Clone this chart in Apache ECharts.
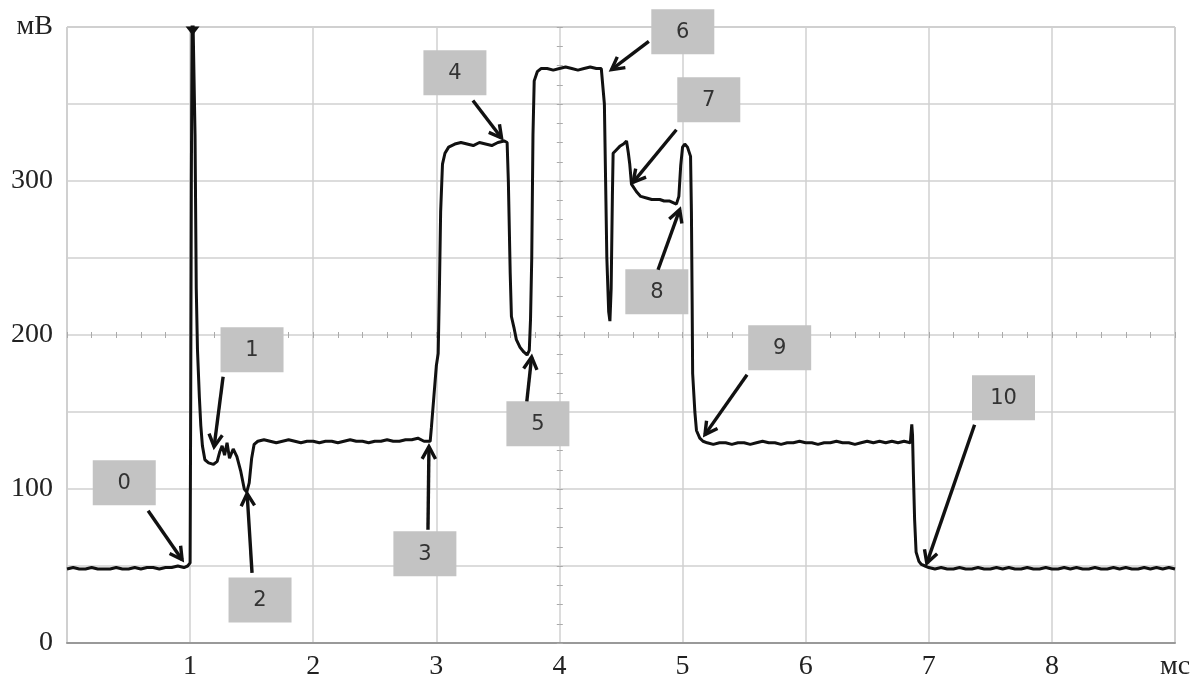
<!DOCTYPE html>
<html>
<head>
<meta charset="utf-8">
<script src="https://cdn.jsdelivr.net/npm/echarts@6/dist/echarts.min.js"></script>
<style>
html,body{margin:0;padding:0;background:#fff;}
#chart{width:1201px;height:681px;}
</style>
</head>
<body>
<div id="chart"></div>
<script>
// ---- data (time in ms, voltage in mV) ----
const timeMs = [
  0,0.05,0.1,0.15,0.2,0.25,0.3,0.35,0.4,0.45,0.5,0.55,0.6,0.65,0.7,0.75,0.8,0.85,0.9,0.95,0.98,
  1.0,1.005,1.01,1.018,1.03,1.04,1.05,1.06,1.075,1.087,1.1,1.12,1.15,1.19,1.22,1.24,1.26,1.28,1.3,1.32,1.35,1.38,1.41,1.44,1.46,1.48,1.5,1.52,1.55,1.6,
  1.65,1.7,1.75,1.8,1.85,1.9,1.95,2.0,2.05,2.1,2.15,2.2,2.25,2.3,2.35,2.4,2.45,2.5,2.55,2.6,2.65,2.7,2.75,2.8,2.85,2.9,2.95,
  2.96,2.98,3.0,3.015,3.025,3.035,3.05,3.07,3.1,3.15,
  3.2,3.25,3.3,3.35,3.4,3.45,3.5,3.55,3.575,
  3.585,3.6,3.61,3.63,3.65,3.68,3.71,3.737,3.755,3.765,3.775,3.785,3.795,3.82,3.85,
  3.9,3.95,4.0,4.05,4.1,4.15,4.2,4.25,4.3,4.34,
  4.355,4.365,4.375,4.385,4.4,4.41,4.42,4.43,4.436,4.46,4.49,4.52,4.545,4.56,4.571,4.585,4.626,4.66,4.707,4.75,4.815,4.85,4.896,4.95,4.97,4.985,5.0,5.018,5.04,5.065,5.072,5.078,5.082,5.1,5.113,5.14,5.166,
  5.2,5.25,5.3,5.35,5.4,5.45,5.5,5.55,5.6,5.65,5.7,5.75,5.8,5.85,5.9,5.95,6.0,6.05,6.1,6.15,6.2,6.25,6.3,6.35,6.4,6.45,6.5,6.55,6.6,6.65,6.7,6.75,6.8,6.85,
  6.857,6.862,6.868,6.875,6.885,6.897,6.92,6.94,6.97,7.0,
  7.05,7.1,7.15,7.2,7.25,7.3,7.35,7.4,7.45,7.5,7.55,7.6,7.65,7.7,7.75,7.8,7.85,7.9,7.95,8.0,8.05,8.1,8.15,8.2,8.25,8.3,8.35,8.4,8.45,8.5,8.55,8.6,8.65,8.7,8.75,8.8,8.85,8.9,8.95,9.0
];
const voltageMv = [
  48,49,48,48,49,48,48,48,49,48,48,49,48,49,49,48,49,49,50,49,50,
  52,160,300,430,430,330,230,190,160,141,128,119,117,116,118,124,128,122,130,120,126,121,112,100,98,104,120,129,131,132,
  131,130,131,132,131,130,131,131,130,131,131,130,131,132,131,131,130,131,131,132,131,131,132,132,133,131,131,
  140,160,180,188,230,280,311,318,322,324,
  325,324,323,325,324,323,325,326,325,
  300,240,212,205,197,192,189,187,190,210,250,330,365,371,373,
  373,372,373,374,373,372,373,374,373,373,
  372,350,300,250,215,209,230,290,318,320,322.5,324,326,318,311,298,293,290,289,288,288,287,287,285,290,310,322,324,322,316,280,220,175,150,138,133,131,
  130,129,130,130,129,130,130,129,130,131,130,130,129,130,130,131,130,130,129,130,130,131,130,130,129,130,131,130,131,130,131,130,131,130,
  130,142,135,110,80,59,53,51,50,49,
  48,49,48,48,49,48,48,49,48,48,49,48,49,48,48,49,48,48,49,48,48,49,48,49,48,48,49,48,48,49,48,49,48,48,49,48,49,48,49,48
];
// tick labels
const xTickLabels = {1:'1',2:'2',3:'3',4:'4',5:'5',6:'6',7:'7',8:'8',9:'мс'};
const yTickLabels = {0:'0',100:'100',200:'200',300:'300',400:'мВ'};
// annotations: label, box centre [t, v], arrow tail [t, v], arrow tip [t, v]
const annoLabels = ['0','1','2','3','4','5','6','7','8','9','10'];
const annoBox  = [[0.465,104],[1.503,190.5],[1.568,28],[2.907,58],[3.151,370.3],[3.825,142.4],[5.002,396.9],[5.213,352.8],[4.791,228.1],[5.789,191.8],[7.607,159.3]];
const annoTail = [[0.659,85.9],[1.268,172.9],[1.503,45.6],[2.932,73.6],[3.297,352.3],[3.735,156.9],[4.726,390.6],[4.95,333.3],[4.801,242.4],[5.524,174.2],[7.372,141.7]];
const annoTip  = [[0.935,54.1],[1.195,127.5],[1.463,97],[2.94,127.5],[3.53,327.9],[3.774,185.7],[4.423,372.3],[4.598,299.1],[4.977,281.4],[5.182,135.3],[6.984,51.9]];
// clipped spike peak marker
const spikeMark = [1.02, 400];

const trace = timeMs.map((t,i)=>[t, voltageMv[i]]);
const annoData = annoLabels.map((l,i)=>[i, annoBox[i][0], annoBox[i][1], annoTail[i][0], annoTail[i][1], annoTip[i][0], annoTip[i][1]]);

const chart = echarts.init(document.getElementById('chart'), null, {renderer:'canvas'});
const gridColor = '#d0d0d0';
const labelFont = {fontFamily:'"Liberation Serif", "DejaVu Serif", serif', fontSize:28, color:'#222'};
const tickAxisCommon = {min:0, max:9, show:true, axisLine:{show:false}, axisLabel:{show:false}, splitLine:{show:false}};
const option = {
  animation:false,
  backgroundColor:'#fff',
  grid:{left:67, right:26, top:27, bottom:38, show:true, borderColor:'#a0a0a0', borderWidth:1},
  xAxis:[
    {type:'value', min:0, max:9, interval:1,
     axisLine:{show:true, lineStyle:{color:'#999', width:2}},
     axisTick:{show:false},
     axisLabel:Object.assign({margin:10, formatter:v=>xTickLabels[v]||''}, labelFont),
     splitLine:{show:true, lineStyle:{color:gridColor, width:1.5}}},
    Object.assign({type:'value', interval:0.2, position:'bottom', offset:-308, axisTick:{show:true, inside:true, length:3, lineStyle:{color:'#aaa'}}}, tickAxisCommon),
    Object.assign({type:'value', interval:0.2, position:'bottom', offset:-308, axisTick:{show:true, inside:false, length:3, lineStyle:{color:'#aaa'}}}, tickAxisCommon)
  ],
  yAxis:[
    {type:'value', min:0, max:400, interval:50,
     axisLine:{show:false}, axisTick:{show:false},
     axisLabel:Object.assign({margin:14, formatter:v=>yTickLabels[v]||''}, labelFont),
     splitLine:{show:true, lineStyle:{color:gridColor, width:1.5}}},
    {type:'value', min:0, max:400, interval:12.5, position:'left', offset:-492.8, show:true,
     axisLine:{show:false}, axisLabel:{show:false}, splitLine:{show:false},
     axisTick:{show:true, inside:true, length:3, lineStyle:{color:'#aaa'}}},
    {type:'value', min:0, max:400, interval:12.5, position:'left', offset:-492.8, show:true,
     axisLine:{show:false}, axisLabel:{show:false}, splitLine:{show:false},
     axisTick:{show:true, inside:false, length:3, lineStyle:{color:'#aaa'}}}
  ],
  series:[
    {type:'custom', z:2, clip:false,
     encode:{x:[1,3,5], y:[2,4,6]},
     data:annoData,
     renderItem:function(params, api){
       const i = api.value(0);
       const b = api.coord([api.value(1), api.value(2)]);
       const s = api.coord([api.value(3), api.value(4)]);
       const e = api.coord([api.value(5), api.value(6)]);
       const ang = Math.atan2(e[1]-s[1], e[0]-s[0]);
       const L = 14, a = 0.5;
       const p1 = [e[0]-L*Math.cos(ang-a), e[1]-L*Math.sin(ang-a)];
       const p2 = [e[0]-L*Math.cos(ang+a), e[1]-L*Math.sin(ang+a)];
       const w = 63, h = 45;
       return {type:'group', children:[
         {type:'rect', shape:{x:b[0]-w/2, y:b[1]-h/2, width:w, height:h}, style:{fill:'#c3c3c3'}},
         {type:'text', style:{text:annoLabels[i], x:b[0], y:b[1]+1, align:'center', verticalAlign:'middle', font:'21px "DejaVu Sans"', fill:'#333'}},
         {type:'line', shape:{x1:s[0], y1:s[1], x2:e[0], y2:e[1]}, style:{stroke:'#111', lineWidth:3.4}},
         {type:'polyline', shape:{points:[p1, e, p2]}, style:{stroke:'#111', lineWidth:3.4, fill:null, lineJoin:'miter'}}
       ]};
     }},
    {type:'line', z:3, data:trace, showSymbol:false, symbol:'none', clip:true,
     lineStyle:{color:'#111', width:3},
     markPoint:{silent:true, animation:false,
       data:[{coord:spikeMark, symbol:'triangle', symbolRotate:180, symbolSize:[14,9], symbolOffset:[0,4], itemStyle:{color:'#111'}, label:{show:false}}]}}
  ]
};
chart.setOption(option);
</script>
</body>
</html>
